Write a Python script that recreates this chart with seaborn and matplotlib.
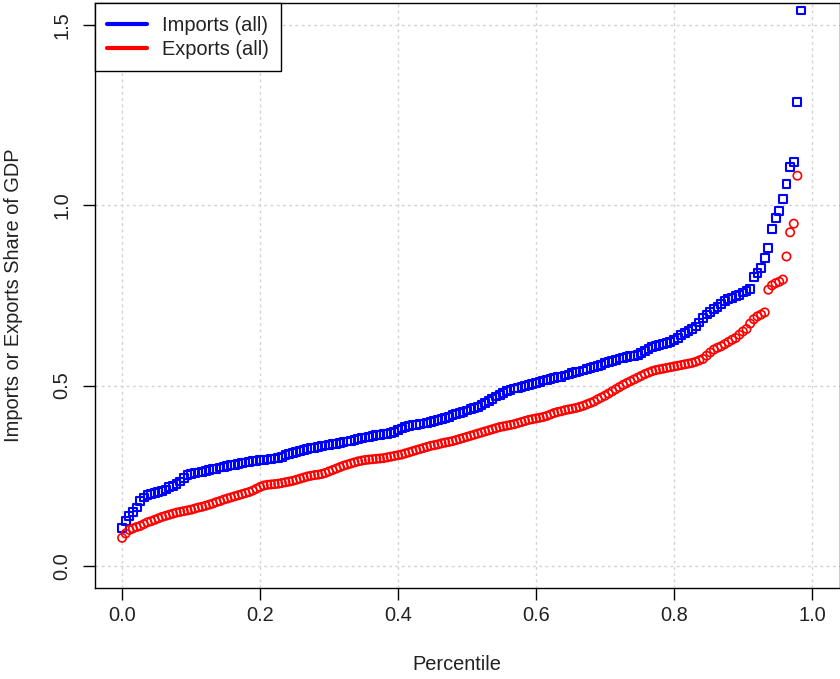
import numpy as np
import pandas as pd
import matplotlib
matplotlib.use("Agg")
import matplotlib.pyplot as plt
from matplotlib.lines import Line2D
import seaborn as sns

# Number of countries used to turn each rank into a percentile
N_COUNTRIES = 190

# Sorted import shares of GDP, one per country
imports_share = [
    0.105, 0.125, 0.138, 0.150, 0.162, 0.180, 0.190, 0.197, 0.200, 0.203,
    0.206, 0.208, 0.212, 0.218, 0.222, 0.228, 0.234, 0.244, 0.252, 0.255,
    0.257, 0.259, 0.261, 0.263, 0.266, 0.268, 0.270, 0.273, 0.275, 0.277,
    0.279, 0.281, 0.283, 0.285, 0.287, 0.289, 0.290, 0.292, 0.293, 0.294,
    0.295, 0.296, 0.298, 0.299, 0.303, 0.307, 0.310, 0.313, 0.316, 0.319,
    0.322, 0.324, 0.326, 0.328, 0.330, 0.332, 0.334, 0.336, 0.338, 0.339,
    0.341, 0.343, 0.345, 0.347, 0.349, 0.351, 0.354, 0.356, 0.358, 0.360,
    0.362, 0.364, 0.365, 0.367, 0.369, 0.372, 0.376, 0.381, 0.385, 0.388,
    0.391, 0.392, 0.394, 0.395, 0.397, 0.399, 0.401, 0.404, 0.407, 0.410,
    0.414, 0.418, 0.421, 0.425, 0.428, 0.431, 0.434, 0.437, 0.441, 0.446,
    0.452, 0.458, 0.464, 0.470, 0.475, 0.480, 0.485, 0.489, 0.492, 0.494,
    0.497, 0.499, 0.502, 0.505, 0.508, 0.511, 0.514, 0.516, 0.518, 0.520,
    0.523, 0.525, 0.528, 0.531, 0.534, 0.537, 0.539, 0.542, 0.545, 0.548,
    0.551, 0.554, 0.558, 0.562, 0.566, 0.569, 0.572, 0.575, 0.577, 0.579,
    0.581, 0.583, 0.586, 0.590, 0.596, 0.602, 0.607, 0.610, 0.613, 0.616,
    0.619, 0.622, 0.626, 0.632, 0.640, 0.646, 0.651, 0.658, 0.664, 0.675,
    0.688, 0.697, 0.705, 0.712, 0.718, 0.726, 0.734, 0.740, 0.744, 0.748,
    0.752, 0.758, 0.763, 0.768, 0.800, 0.812, 0.826, 0.854, 0.882, 0.934,
    0.965, 0.983, 1.018, 1.059, 1.106, 1.120, 1.286, 1.540,
]

# Sorted export shares of GDP, one per country
exports_share = [
    0.078, 0.090, 0.100, 0.104, 0.108, 0.111, 0.116, 0.121, 0.124, 0.128,
    0.132, 0.136, 0.139, 0.142, 0.145, 0.148, 0.150, 0.152, 0.154, 0.156,
    0.159, 0.162, 0.164, 0.167, 0.170, 0.173, 0.177, 0.180, 0.184, 0.187,
    0.190, 0.193, 0.196, 0.199, 0.202, 0.205, 0.209, 0.214, 0.219, 0.223,
    0.225, 0.226, 0.227, 0.228, 0.230, 0.232, 0.234, 0.236, 0.239, 0.242,
    0.245, 0.248, 0.250, 0.252, 0.253, 0.255, 0.258, 0.262, 0.266, 0.270,
    0.274, 0.278, 0.281, 0.284, 0.287, 0.290, 0.292, 0.294, 0.295, 0.296,
    0.297, 0.298, 0.299, 0.301, 0.303, 0.305, 0.307, 0.309, 0.312, 0.315,
    0.318, 0.321, 0.324, 0.327, 0.330, 0.333, 0.335, 0.337, 0.340, 0.342,
    0.344, 0.346, 0.349, 0.352, 0.355, 0.358, 0.361, 0.364, 0.367, 0.370,
    0.373, 0.376, 0.379, 0.382, 0.385, 0.387, 0.389, 0.391, 0.393, 0.396,
    0.399, 0.402, 0.405, 0.407, 0.409, 0.411, 0.413, 0.416, 0.420, 0.424,
    0.427, 0.429, 0.432, 0.434, 0.436, 0.438, 0.441, 0.444, 0.448, 0.452,
    0.456, 0.462, 0.467, 0.472, 0.478, 0.484, 0.490, 0.496, 0.502, 0.507,
    0.512, 0.517, 0.522, 0.527, 0.532, 0.536, 0.540, 0.543, 0.545, 0.547,
    0.549, 0.551, 0.553, 0.555, 0.557, 0.559, 0.561, 0.563, 0.566, 0.570,
    0.574, 0.583, 0.592, 0.600, 0.605, 0.609, 0.615, 0.621, 0.627, 0.632,
    0.641, 0.650, 0.657, 0.672, 0.684, 0.692, 0.697, 0.703, 0.766, 0.778,
    0.784, 0.788, 0.794, 0.858, 0.925, 0.949, 1.082, 1.580,
]

x_ticks = [0.0, 0.2, 0.4, 0.6, 0.8, 1.0]
x_tick_labels = ["0.0", "0.2", "0.4", "0.6", "0.8", "1.0"]
y_ticks = [0.0, 0.5, 1.0, 1.5]
y_tick_labels = ["0.0", "0.5", "1.0", "1.5"]
series_labels = ["Imports (all)", "Exports (all)"]
series_colors = ["#0000FF", "#FF0000"]
series_markers = ["s", "o"]

sns.set_theme(style="white")
plt.rcParams["font.family"] = ["Liberation Sans", "DejaVu Sans"]
FS = 14.4

rank = np.arange(len(imports_share))
df = pd.DataFrame({
    "percentile": rank / N_COUNTRIES,
    "imports": imports_share,
    "exports": exports_share,
})

W, H = 840, 679
fig = plt.figure(figsize=(W / 100, H / 100), dpi=100)
fig.patch.set_facecolor("white")
left, right, top, bottom = 94.5, 839.5, 3.3, 587.6
ax = fig.add_axes([left / W, 1 - bottom / H, (right - left) / W, (bottom - top) / H])
ax.set_facecolor("white")

# grid drawn beneath the points
for xv in x_ticks:
    ax.axvline(xv, color="#D3D3D3", lw=1.0, ls=(0, (2, 2.5)), zorder=0)
for yv in y_ticks:
    ax.axhline(yv, color="#D3D3D3", lw=1.0, ls=(0, (2, 2.5)), zorder=0)

sizes = [32, 36]
widths = [1.5, 1.2]
for col, color, marker, size, lw in zip(["imports", "exports"], series_colors,
                                        series_markers, sizes, widths):
    sns.scatterplot(data=df, x="percentile", y=col, marker=marker, s=size,
                    color=color, ax=ax, legend=False, zorder=3)
    coll = ax.collections[-1]
    coll.set_facecolor("none")
    coll.set_edgecolor(color)
    coll.set_linewidth(lw)

ax.set_xlim(-0.04, 1.04)
ax.set_ylim(-0.06, 1.56)

ax.set_xticks(x_ticks)
ax.set_xticklabels(x_tick_labels)
ax.set_yticks(y_ticks)
ax.set_yticklabels(y_tick_labels, rotation=90, va="center")
ax.tick_params(axis="both", direction="out", length=8.6, width=1.0,
               colors="black", labelsize=FS, labelcolor="#222222")
ax.tick_params(axis="x", pad=5)
ax.tick_params(axis="y", pad=8)
ax.tick_params(bottom=True, left=True, top=False, right=False)

for sp in ax.spines.values():
    sp.set_visible(True)
    sp.set_color("black")
    sp.set_linewidth(1.0)

ax.set_xlabel("Percentile", fontsize=FS, color="#222222")
ax.set_ylabel("Imports or Exports Share of GDP", fontsize=FS, color="#222222")
ax.xaxis.set_label_coords(0.5 - 10 / (right - left), -(664 - bottom) / (bottom - top))
ax.xaxis.label.set_va("center")
ax.yaxis.set_label_coords(-(left - 14) / (right - left), 0.5)
ax.yaxis.label.set_va("center")

handles = [Line2D([], [], color=c, lw=3) for c in series_colors]
leg = ax.legend(handles, series_labels, loc="upper left", bbox_to_anchor=(0, 1),
                borderaxespad=0, frameon=True, fancybox=False, edgecolor="black",
                framealpha=1, fontsize=FS, handlelength=2.0, handletextpad=0.75,
                borderpad=0.62, labelspacing=0.25)
leg.get_frame().set_linewidth(1.0)
for t in leg.get_texts():
    t.set_color("#222222")

fig.savefig("out.png", dpi=100, facecolor="white")
